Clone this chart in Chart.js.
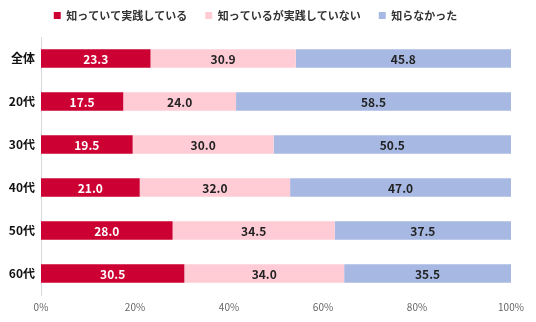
<!DOCTYPE html>
<html>
<head>
<meta charset="utf-8">
<script src="https://cdn.jsdelivr.net/npm/chart.js@4"></script>
<style>
  html, body { margin: 0; padding: 0; background: #fff; }
  #wrap { width: 536px; height: 322px; }
</style>
</head>
<body>
<div id="wrap"><canvas id="c" width="536" height="322"></canvas></div>
<script>
// ── Data ──────────────────────────────────────────────────────────
const categories = ['全体', '20代', '30代', '40代', '50代', '60代'];
const seriesNames = ['知っていて実践している', '知っているが実践していない', '知らなかった'];
const practicing = [23.3, 17.5, 19.5, 21.0, 28.0, 30.5];
const knowNotPracticing = [30.9, 24.0, 30.0, 32.0, 34.5, 34.0];
const didNotKnow = [45.8, 58.5, 50.5, 47.0, 37.5, 35.5];
const xTicks = [0, 20, 40, 60, 80, 100];

const colors = ['#CC0033', '#FFCCD6', '#A7B9E3'];
const labelColors = ['#ffffff', '#222222', '#222222'];
const FONT = '"Noto Sans CJK JP", "Noto Sans", sans-serif';

// ── Value labels in the middle of each segment ────────────────────
const segmentLabels = {
  id: 'segmentLabels',
  afterDatasetsDraw(chart) {
    const ctx = chart.ctx;
    ctx.save();
    ctx.font = 'bold 12px ' + FONT;
    ctx.textAlign = 'center';
    ctx.textBaseline = 'middle';
    chart.data.datasets.forEach((ds, i) => {
      chart.getDatasetMeta(i).data.forEach((bar, j) => {
        const p = bar.getProps(['x', 'base', 'y'], true);
        ctx.fillStyle = labelColors[i];
        ctx.fillText(ds.data[j].toFixed(1), (p.x + p.base) / 2, p.y + 1);
      });
    });
    ctx.restore();
  }
};

// extra space under the legend
const legendGap = {
  id: 'legendGap',
  afterInit(chart) {
    const lg = chart.legend;
    if (!lg) return;
    const fit = lg.fit;
    lg.fit = function() { fit.call(this); this.height += 6; };
  }
};

const datasets = [practicing, knowNotPracticing, didNotKnow].map((data, i) => ({
  label: seriesNames[i],
  data,
  backgroundColor: colors[i],
  borderWidth: 0,
  barPercentage: 0.43,
  categoryPercentage: 1
}));

new Chart(document.getElementById('c'), {
  type: 'bar',
  data: { labels: categories, datasets },
  options: {
    indexAxis: 'y',
    responsive: false,
    animation: false,
    layout: { padding: { left: 0, right: 25, top: -8, bottom: 3 } },
    plugins: {
      legend: {
        position: 'top',
        labels: {
          boxWidth: 7,
          boxHeight: 7,
          padding: 18,
          color: '#333',
          font: { family: FONT, size: 11, weight: 'bold' }
        }
      },
      tooltip: { enabled: false }
    },
    scales: {
      x: {
        stacked: true,
        min: 0,
        max: 100,
        afterBuildTicks(scale) { scale.ticks = xTicks.map(v => ({ value: v })); },
        ticks: {
          callback: v => v + '%',
          color: '#666',
          font: { family: FONT, size: 10 },
          padding: 6
        },
        grid: { display: false, drawTicks: false },
        border: { display: false }
      },
      y: {
        stacked: true,
        afterFit(scale) { scale.width = 41; },
        ticks: {
          color: '#111',
          font: { family: FONT, size: 12, weight: 'bold' },
          padding: 6
        },
        grid: { display: false, drawTicks: false },
        border: { display: true, color: '#d9d9d9', width: 1 }
      }
    }
  },
  plugins: [legendGap, segmentLabels]
});
</script>
</body>
</html>
